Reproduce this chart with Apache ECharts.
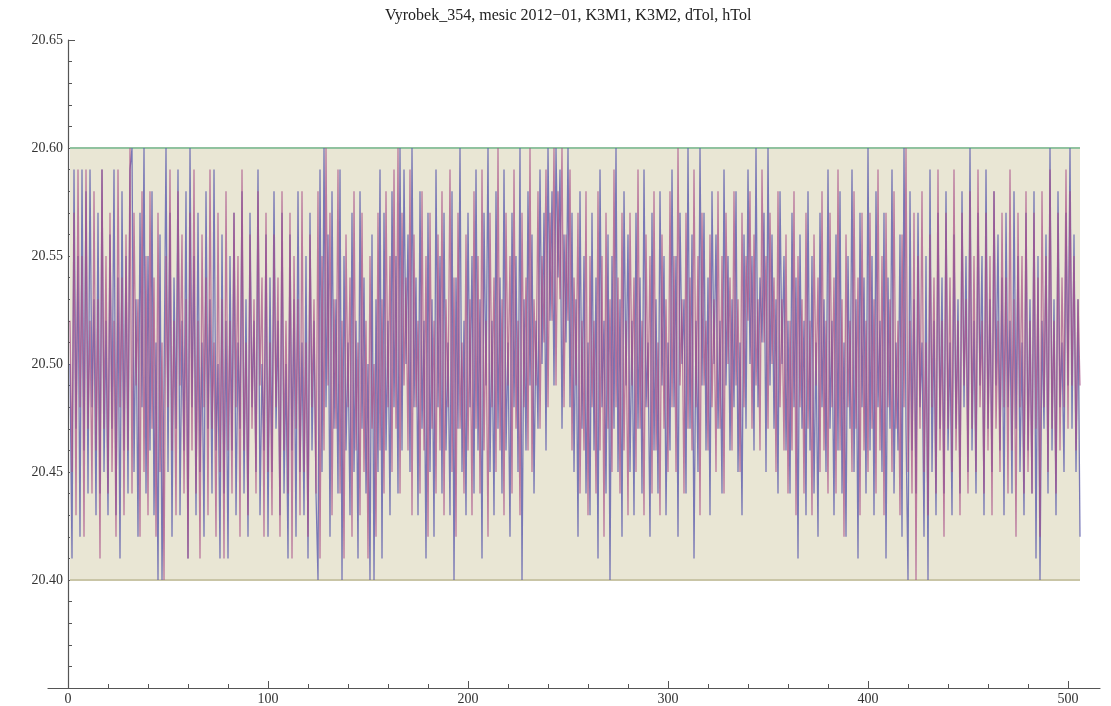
<!DOCTYPE html>
<html>
<head>
<meta charset="utf-8">
<script src="https://cdn.jsdelivr.net/npm/echarts@6/dist/echarts.min.js"></script>
<style>html,body{margin:0;padding:0;background:#fff}#c{width:1111px;height:706px}</style>
</head>
<body>
<div id="c"></div>
<script>
const title = 'Vyrobek_354, mesic 2012\u221201, K3M1, K3M2, dTol, hTol';
const dTol = 20.40;
const hTol = 20.60;
const yTicks = [20.40, 20.45, 20.50, 20.55, 20.60, 20.65];
const xTicks = [0, 100, 200, 300, 400, 500];
const K3M1 = [
20.50,20.41,20.59,20.47,20.55,20.42,20.59,20.46,20.58,20.44,20.59,20.48,20.53,20.43,20.57,20.44,20.59,20.45,20.52,20.43,
20.56,20.47,20.59,20.43,20.54,20.41,20.58,20.46,20.55,20.44,20.59,20.60,20.45,20.53,20.42,20.57,20.48,20.60,20.44,20.55,
20.46,20.58,20.43,20.51,20.40,20.56,20.40,20.49,20.60,20.45,20.57,20.42,20.54,20.47,20.59,20.43,20.52,20.46,20.58,20.41,
20.60,20.48,20.55,20.43,20.57,20.45,20.51,20.42,20.58,20.47,20.53,20.44,20.59,20.46,20.50,20.41,20.56,20.44,20.52,20.41,
20.55,20.46,20.57,20.43,20.51,20.47,20.58,20.44,20.53,20.42,20.57,20.48,20.52,20.45,20.59,20.43,20.50,20.46,20.56,20.42,
20.54,20.45,20.58,20.47,20.52,20.43,20.57,20.44,20.50,20.41,20.56,20.46,20.53,20.42,20.58,20.45,20.51,20.43,20.55,20.41,
20.57,20.46,20.52,20.44,20.40,20.59,20.45,20.60,20.48,20.56,20.42,20.58,20.47,20.53,20.44,20.59,20.40,20.55,20.46,20.51,
20.43,20.57,20.45,20.52,20.41,20.58,20.47,20.54,20.44,20.50,20.40,20.56,20.40,20.53,20.45,20.59,20.41,20.57,20.46,20.52,
20.43,20.58,20.48,20.55,20.44,20.60,20.46,20.59,20.50,20.56,20.45,20.60,20.48,20.54,20.43,20.58,20.47,20.52,20.41,20.57,
20.45,20.53,20.42,20.59,20.48,20.55,20.44,20.57,20.46,20.51,20.43,20.58,20.40,20.54,20.47,20.60,20.45,20.52,20.43,20.57,
20.48,20.55,20.44,20.59,20.46,20.53,20.41,20.57,20.49,20.60,20.45,20.52,20.43,20.58,20.47,20.54,20.44,20.59,20.46,20.51,
20.42,20.57,20.48,20.55,20.45,20.60,20.40,20.53,20.46,20.58,20.49,20.56,20.44,20.52,20.47,20.59,20.50,20.57,20.46,20.60,
20.52,20.58,20.49,20.60,20.54,20.59,20.47,20.56,20.51,20.60,20.48,20.57,20.45,20.53,20.42,20.58,20.47,20.55,20.44,20.51,
20.43,20.57,20.46,20.54,20.41,20.59,20.48,20.52,20.44,20.56,20.40,20.55,20.47,20.60,20.45,20.53,20.42,20.58,20.49,20.56,
20.45,20.52,20.43,20.57,20.47,20.54,20.44,20.59,20.48,20.51,20.42,20.57,20.46,20.53,20.44,20.58,20.49,20.55,20.43,20.51,
20.46,20.59,20.48,20.55,20.42,20.57,20.50,20.53,20.44,20.60,20.47,20.56,20.41,20.52,20.45,20.60,20.49,20.57,20.46,20.54,
20.43,20.58,20.50,20.56,20.47,20.52,20.44,20.59,20.49,20.55,20.46,20.53,20.48,20.58,20.45,20.51,20.43,20.56,20.47,20.59,
20.50,20.55,20.46,20.60,20.48,20.54,20.51,20.57,20.45,20.60,20.49,20.56,20.47,20.53,20.44,20.58,20.50,20.55,20.46,20.52,
20.44,20.57,20.48,20.54,20.41,20.56,20.47,20.52,20.43,20.58,20.46,20.55,20.44,20.51,20.42,20.57,20.48,20.53,20.45,20.59,
20.47,20.52,20.43,20.56,20.46,20.58,20.44,20.51,20.42,20.55,20.47,20.59,20.45,20.53,20.41,20.57,20.48,20.54,20.44,20.60,
20.46,20.55,20.43,20.58,20.48,20.52,20.45,20.57,20.41,20.54,20.47,20.59,20.44,20.51,20.46,20.56,20.42,20.60,20.47,20.40,
20.58,20.46,20.53,20.44,20.57,20.48,20.51,20.42,20.55,20.40,20.59,20.45,20.52,20.43,20.57,20.47,20.54,20.44,20.58,20.46,
20.51,20.43,20.56,20.47,20.53,20.44,20.58,20.48,20.55,20.45,20.60,20.46,20.52,20.44,20.57,20.49,20.55,20.43,20.59,20.47,
20.53,20.45,20.58,20.49,20.56,20.46,20.54,20.43,20.57,20.48,20.52,20.44,20.58,20.47,20.55,20.45,20.51,20.43,20.57,20.46,
20.53,20.44,20.58,20.41,20.55,20.40,20.52,20.47,20.56,20.44,20.60,20.46,20.53,20.43,20.58,20.48,20.51,20.45,20.57,20.49,
20.60,20.47,20.56,20.45,20.53,20.42
];
const K3M2 = [
20.52,20.45,20.57,20.43,20.59,20.48,20.55,20.42,20.59,20.47,20.52,20.44,20.58,20.46,20.53,20.41,20.59,20.47,20.55,20.44,
20.57,20.45,20.52,20.42,20.59,20.48,20.54,20.43,20.56,20.46,20.60,20.44,20.57,20.49,20.53,20.42,20.58,20.45,20.55,20.43,
20.58,20.47,20.54,20.42,20.57,20.45,20.51,20.40,20.55,20.48,20.59,20.46,20.52,20.43,20.58,20.49,20.56,20.44,20.53,20.41,
20.57,20.46,20.59,20.44,20.52,20.41,20.56,20.48,20.54,20.43,20.59,20.47,20.51,20.42,20.57,20.45,20.53,20.41,20.58,20.46,
20.52,20.44,20.57,20.48,20.55,20.42,20.59,20.46,20.51,20.43,20.56,20.47,20.53,20.44,20.58,20.49,20.54,20.42,20.57,20.45,
20.51,20.43,20.56,20.48,20.54,20.42,20.58,20.46,20.52,20.44,20.57,20.41,20.55,20.47,20.53,20.43,20.58,20.45,20.51,20.42,
20.56,20.48,20.53,20.44,20.58,20.41,20.55,20.46,20.60,20.49,20.57,20.43,20.53,20.47,20.59,20.44,20.52,20.41,20.56,20.48,
20.54,20.42,20.58,20.46,20.51,20.43,20.57,20.45,20.52,20.41,20.55,20.47,20.50,20.42,20.57,20.46,20.53,20.44,20.58,20.48,
20.55,20.45,20.59,20.47,20.60,20.44,20.57,20.49,20.54,20.46,20.59,20.43,20.56,20.48,20.52,20.44,20.58,20.46,20.55,20.42,
20.57,20.47,20.52,20.44,20.56,20.46,20.58,20.43,20.53,20.48,20.59,20.45,20.54,20.42,20.57,20.47,20.51,20.44,20.56,20.46,
20.53,20.43,20.58,20.47,20.55,20.44,20.59,20.46,20.52,20.42,20.57,20.48,20.54,20.45,20.60,20.46,20.53,20.43,20.57,20.49,
20.55,20.44,20.59,20.47,20.52,20.43,20.57,20.48,20.54,20.46,20.60,20.45,20.53,20.49,20.58,20.47,20.55,20.51,20.59,20.48,
20.57,20.52,20.60,20.49,20.58,20.53,20.60,20.48,20.56,20.52,20.59,20.46,20.54,20.49,20.57,20.44,20.52,20.46,20.58,20.43,
20.55,20.48,20.52,20.44,20.58,20.46,20.55,20.42,20.57,20.47,20.53,20.45,20.59,20.48,20.54,20.44,20.57,20.46,20.52,20.43,
20.57,20.49,20.54,20.45,20.59,20.47,20.52,20.43,20.56,20.48,20.55,20.44,20.58,20.46,20.51,20.43,20.56,20.47,20.53,20.45,
20.58,20.48,20.55,20.45,20.60,20.49,20.53,20.44,20.57,20.47,20.54,20.46,20.59,20.48,20.55,20.43,20.57,20.49,20.52,20.46,
20.56,20.48,20.53,20.45,20.58,20.47,20.55,20.44,20.57,20.50,20.54,20.46,20.58,20.49,20.53,20.45,20.57,20.48,20.55,20.52,
20.58,20.47,20.56,20.49,20.53,20.46,20.59,20.51,20.55,20.47,20.57,20.50,20.54,20.45,20.58,20.48,20.53,20.46,20.56,20.44,
20.52,20.46,20.58,20.43,20.55,20.48,20.53,20.44,20.57,20.47,20.52,20.43,20.56,20.49,20.54,20.45,20.58,20.46,20.52,20.44,
20.57,20.48,20.54,20.44,20.59,20.46,20.53,20.42,20.56,20.48,20.52,20.45,20.58,20.47,20.54,20.43,20.57,20.46,20.52,20.45,
20.57,20.47,20.53,20.44,20.59,20.46,20.55,20.43,20.57,20.48,20.53,20.45,20.58,20.47,20.52,20.43,20.56,20.48,20.60,20.45,
20.52,20.44,20.57,20.40,20.55,20.47,20.58,20.45,20.51,20.43,20.56,20.48,20.54,20.44,20.59,20.46,20.52,20.42,20.57,20.47,
20.54,20.45,20.59,20.46,20.52,20.43,20.57,20.49,20.53,20.44,20.58,20.47,20.55,20.45,20.59,20.48,20.52,20.44,20.57,20.46,
20.55,20.43,20.58,20.47,20.52,20.45,20.57,20.48,20.54,20.44,20.59,20.46,20.53,20.42,20.57,20.48,20.55,20.44,20.58,20.45,
20.52,20.44,20.57,20.47,20.54,20.42,20.58,20.48,20.55,20.45,20.59,20.47,20.52,20.44,20.57,20.46,20.54,20.48,20.59,20.47,
20.58,20.49,20.55,20.46,20.53,20.49
];

const toPts = arr => arr.map((v, i) => [i + 1, v]);
const n = K3M1.length;
const minorX = [];
for (let v = 0; v <= 500; v += 20) minorX.push(v);

const serif = '"Liberation Serif", "DejaVu Serif", serif';
const chart = echarts.init(document.getElementById('c'));
chart.setOption({
  animation: false,
  backgroundColor: '#ffffff',
  title: {
    text: title, left: 380, top: 3,
    textStyle: { fontFamily: serif, fontSize: 16, fontWeight: 'normal', color: '#222' }
  },
  grid: { left: 48, right: 11, top: 40, bottom: 17, containLabel: false },
  xAxis: [{
    type: 'value', min: -10, max: 516, position: 'bottom',
    axisLine: { onZero: false, lineStyle: { color: '#555', width: 1.2 } },
    axisTick: { inside: true, length: 7, lineStyle: { color: '#555' }, customValues: xTicks },
    axisLabel: { customValues: xTicks, fontFamily: serif, fontSize: 14, color: '#333', margin: 4 },
    splitLine: { show: false }
  }, {
    type: 'value', min: -10, max: 516, position: 'bottom', gridIndex: 0,
    axisLine: { show: false },
    axisTick: { inside: true, length: 4, lineStyle: { color: '#555' }, customValues: minorX },
    axisLabel: { show: false },
    splitLine: { show: false }
  }],
  yAxis: {
    type: 'value', min: 20.35, max: 20.65, interval: 0.05,
    axisLine: { onZero: true, onZeroAxisIndex: 0, lineStyle: { color: '#555', width: 1.2 } },
    axisTick: { inside: true, length: 7, lineStyle: { color: '#555' } },
    minorTick: { show: true, splitNumber: 5, length: 4, lineStyle: { color: '#555' } },
    axisLabel: {
      fontFamily: serif, fontSize: 14, color: '#333', margin: -15,
      formatter: v => (yTicks.some(t => Math.abs(t - v) < 1e-6) ? v.toFixed(2) : '')
    },
    splitLine: { show: false }
  },
  series: [
    {
      name: 'dTol', type: 'line', showSymbol: false, silent: true, z: 1,
      data: [[1, dTol], [n, dTol]],
      lineStyle: { color: '#c9c5a6', width: 2 },
      markArea: {
        silent: true,
        itemStyle: { color: '#e9e6d4' },
        data: [[{ xAxis: 1, yAxis: dTol }, { xAxis: n, yAxis: hTol }]]
      }
    },
    {
      name: 'hTol', type: 'line', showSymbol: false, silent: true, z: 1,
      data: [[1, hTol], [n, hTol]],
      lineStyle: { color: '#90c29f', width: 2 }
    },
    {
      name: 'K3M1', type: 'line', showSymbol: false, z: 3,
      data: toPts(K3M1),
      lineStyle: { color: '#5c5cae', width: 1.3, opacity: 0.8 }
    },
    {
      name: 'K3M2', type: 'line', showSymbol: false, z: 4,
      data: toPts(K3M2),
      lineStyle: { color: '#a64c88', width: 1.3, opacity: 0.7 }
    }
  ]
});
</script>
</body>
</html>
